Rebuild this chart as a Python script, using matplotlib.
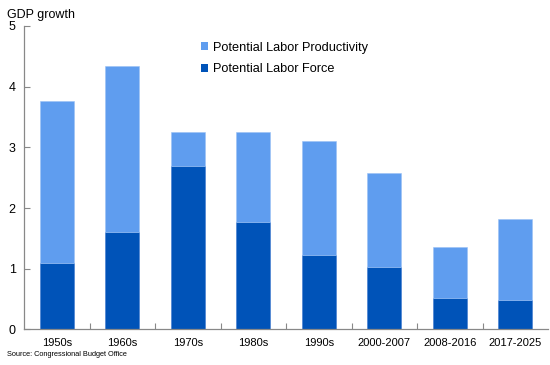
import matplotlib
matplotlib.use("Agg")
import matplotlib.pyplot as plt
from matplotlib.patches import Patch
import numpy as np

categories = ["1950s", "1960s", "1970s", "1980s", "1990s", "2000-2007", "2008-2016", "2017-2025"]
labor_force = [1.09, 1.60, 2.69, 1.77, 1.23, 1.03, 0.52, 0.49]
totals = [3.76, 4.34, 3.26, 3.25, 3.11, 2.57, 1.36, 1.82]
productivity = [t - f for t, f in zip(totals, labor_force)]
yticks = [0, 1, 2, 3, 4, 5]

LIGHT = "#5F9DEF"
DARK = "#0053B8"

plt.rcParams["font.family"] = ["Liberation Sans", "DejaVu Sans"]

fig = plt.figure(figsize=(5.5, 3.65), dpi=100)
ax = fig.add_axes([24 / 550, 35.6 / 365, 524 / 550, 303.4 / 365])

x = np.arange(len(categories))
w = 0.52
ax.bar(x, labor_force, w, color=DARK, edgecolor="#3E78D0", linewidth=0.4)
ax.bar(x, productivity, w, bottom=labor_force, color=LIGHT, edgecolor="#9CC2F5", linewidth=0.4)

ax.set_xlim(-0.5, len(categories) - 0.5)
ax.set_ylim(0, 5)
ax.set_yticks(yticks)
ax.set_yticklabels([str(v) for v in yticks], fontsize=9)
ax.set_xticks(x)
ax.set_xticklabels(categories, fontsize=8)
ax.set_xticks(np.arange(0.5, len(categories) - 0.5, 1), minor=True)
ax.tick_params(axis="x", which="major", length=0, pad=6)
ax.tick_params(axis="x", which="minor", direction="in", length=4, color="#888888", width=0.8)
ax.tick_params(axis="y", direction="in", length=4, color="#888888", width=0.8, pad=6)

for s in ["top", "right"]:
    ax.spines[s].set_visible(False)
for s in ["left", "bottom"]:
    ax.spines[s].set_color("#888888")
    ax.spines[s].set_linewidth(0.9)

handles = [Patch(facecolor=LIGHT, edgecolor="none"), Patch(facecolor=DARK, edgecolor="none")]
ax.legend(handles, ["Potential Labor Productivity", "Potential Labor Force"],
          loc="upper left", bbox_to_anchor=(172 / 524, 1 - 10.5 / 303.4),
          frameon=False, fontsize=9.2, handlelength=0.55, handleheight=0.55,
          handletextpad=0.35, labelspacing=0.75, borderaxespad=0)

fig.text(7 / 550, 1 - 15 / 365, "GDP growth", fontsize=9, va="center", ha="left")
fig.text(7 / 550, 1 - 354 / 365, "Source: Congressional Budget Office", fontsize=5.3, va="center", ha="left")

fig.savefig("out.png", dpi=100)
